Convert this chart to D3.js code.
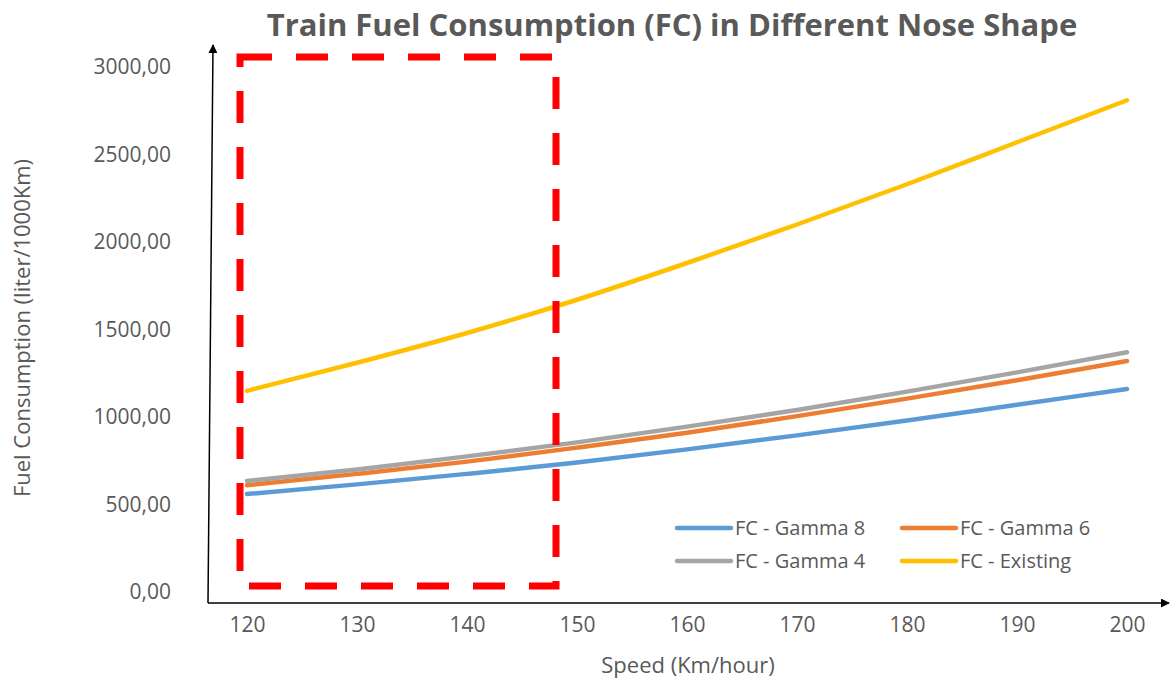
<!DOCTYPE html>
<html>
<head>
<meta charset="utf-8">
<script src="https://cdn.jsdelivr.net/npm/d3@7"></script>
<style>
  body { margin: 0; background: #fff; }
  text { font-family: "Open Sans", "Liberation Sans", sans-serif; fill: #595959; }
</style>
</head>
<body>
<div id="chart"></div>
<script>
// data
var speeds = [120, 130, 140, 150, 160, 170, 180, 190, 200];
var gamma8 = [560, 615, 675, 740, 815, 895, 980, 1070, 1160];
var gamma6 = [610, 675, 745, 825, 910, 1005, 1105, 1210, 1320];
var gamma4 = [635, 700, 775, 855, 945, 1040, 1145, 1255, 1370];
var existing = [1150, 1310, 1480, 1670, 1880, 2100, 2330, 2570, 2810];
var yTicks = [0, 500, 1000, 1500, 2000, 2500, 3000];

var seriesNames = ["FC - Gamma 8", "FC - Gamma 6", "FC - Gamma 4", "FC - Existing"];
var seriesValues = [gamma8, gamma6, gamma4, existing];
var colors = ["#5B9BD5", "#ED7D31", "#A5A5A5", "#FFC000"];

var width = 1172, height = 678;

var svg = d3
  .select("#chart")
  .append("svg")
  .attr("width", width)
  .attr("height", height);

var x = d3.scaleLinear().domain([120, 200]).range([247, 1127]);
var y = d3.scaleLinear().domain([0, 3000]).range([592, 67]);

// arrow marker for the axes
svg
  .append("defs")
  .append("marker")
  .attr("id", "arrow")
  .attr("viewBox", "0 0 10 10")
  .attr("refX", 9)
  .attr("refY", 5)
  .attr("markerWidth", 9)
  .attr("markerHeight", 9)
  .attr("markerUnits", "userSpaceOnUse")
  .attr("orient", "auto")
  .append("path")
  .attr("d", "M0,0L10,5L0,10Z")
  .attr("fill", "#000");

// title
svg
  .append("text")
  .attr("x", 672)
  .attr("y", 36)
  .attr("text-anchor", "middle")
  .style("font-size", "31px")
  .style("font-weight", "bold")
  .text("Train Fuel Consumption (FC) in Different Nose Shape");

// y ticks (labels only, comma decimal like the source)
svg
  .append("g")
  .attr("transform", "translate(171,0)")
  .call(
    d3
      .axisLeft(y)
      .tickValues(yTicks)
      .tickSize(0)
      .tickPadding(0)
      .tickFormat((d) => d3.format(".2f")(d).replace(".", ","))
  )
  .call((g) => g.select(".domain").remove())
  .selectAll("text")
  .style("font-size", "21px")
  .style("fill", "#595959")
  .style("font-family", "\"Open Sans\", sans-serif");

// x ticks
svg
  .append("g")
  .attr("transform", "translate(0,617)")
  .call(d3.axisBottom(x).tickValues(speeds).tickSize(0).tickPadding(0))
  .call((g) => g.select(".domain").remove())
  .selectAll("text")
  .style("font-size", "21px")
  .style("fill", "#595959")
  .style("font-family", "\"Open Sans\", sans-serif");

// axis titles
svg
  .append("text")
  .attr("text-anchor", "middle")
  .attr("x", 688)
  .attr("y", 673)
  .style("font-size", "22px")
  .text("Speed (Km/hour)");

svg
  .append("text")
  .attr("text-anchor", "middle")
  .attr("transform", "translate(30,328) rotate(-90)")
  .style("font-size", "22px")
  .text("Fuel Consumption (liter/1000Km)");

// hand drawn axis arrows
svg
  .append("line")
  .attr("x1", 208).attr("y1", 603)
  .attr("x2", 1169).attr("y2", 603)
  .attr("stroke", "#000")
  .attr("stroke-width", 1.5)
  .attr("marker-end", "url(#arrow)");

svg
  .append("line")
  .attr("x1", 208).attr("y1", 603)
  .attr("x2", 213).attr("y2", 45)
  .attr("stroke", "#000")
  .attr("stroke-width", 1.5)
  .attr("marker-end", "url(#arrow)");

// lines
var line = d3
  .line()
  .x((d, i) => x(speeds[i]))
  .y((d) => y(d))
  .curve(d3.curveMonotoneX);

svg
  .selectAll(".series")
  .data(seriesValues)
  .enter()
  .append("path")
  .attr("class", "series")
  .attr("fill", "none")
  .attr("stroke", (d, i) => colors[i])
  .attr("stroke-width", 4.5)
  .attr("stroke-linecap", "round")
  .attr("d", line);

// red dashed highlight box
svg
  .append("rect")
  .attr("x", 240)
  .attr("y", 57)
  .attr("width", 316)
  .attr("height", 529)
  .attr("fill", "none")
  .attr("stroke", "#FF0000")
  .attr("stroke-width", 7)
  .attr("stroke-dasharray", "32,24");

// legend
var legendPos = [
  [677, 528],
  [902, 528],
  [677, 561],
  [902, 561],
];

var legend = svg
  .selectAll(".legend")
  .data(seriesNames)
  .enter()
  .append("g")
  .attr("class", "legend")
  .attr("transform", (d, i) => "translate(" + legendPos[i][0] + "," + legendPos[i][1] + ")");

legend
  .append("line")
  .attr("x1", 0)
  .attr("x2", 54)
  .attr("stroke", (d, i) => colors[i])
  .attr("stroke-width", 4.5)
  .attr("stroke-linecap", "round");

legend
  .append("text")
  .attr("x", 58)
  .attr("y", 7)
  .style("font-size", "20px")
  .text((d) => d);
</script>
</body>
</html>
